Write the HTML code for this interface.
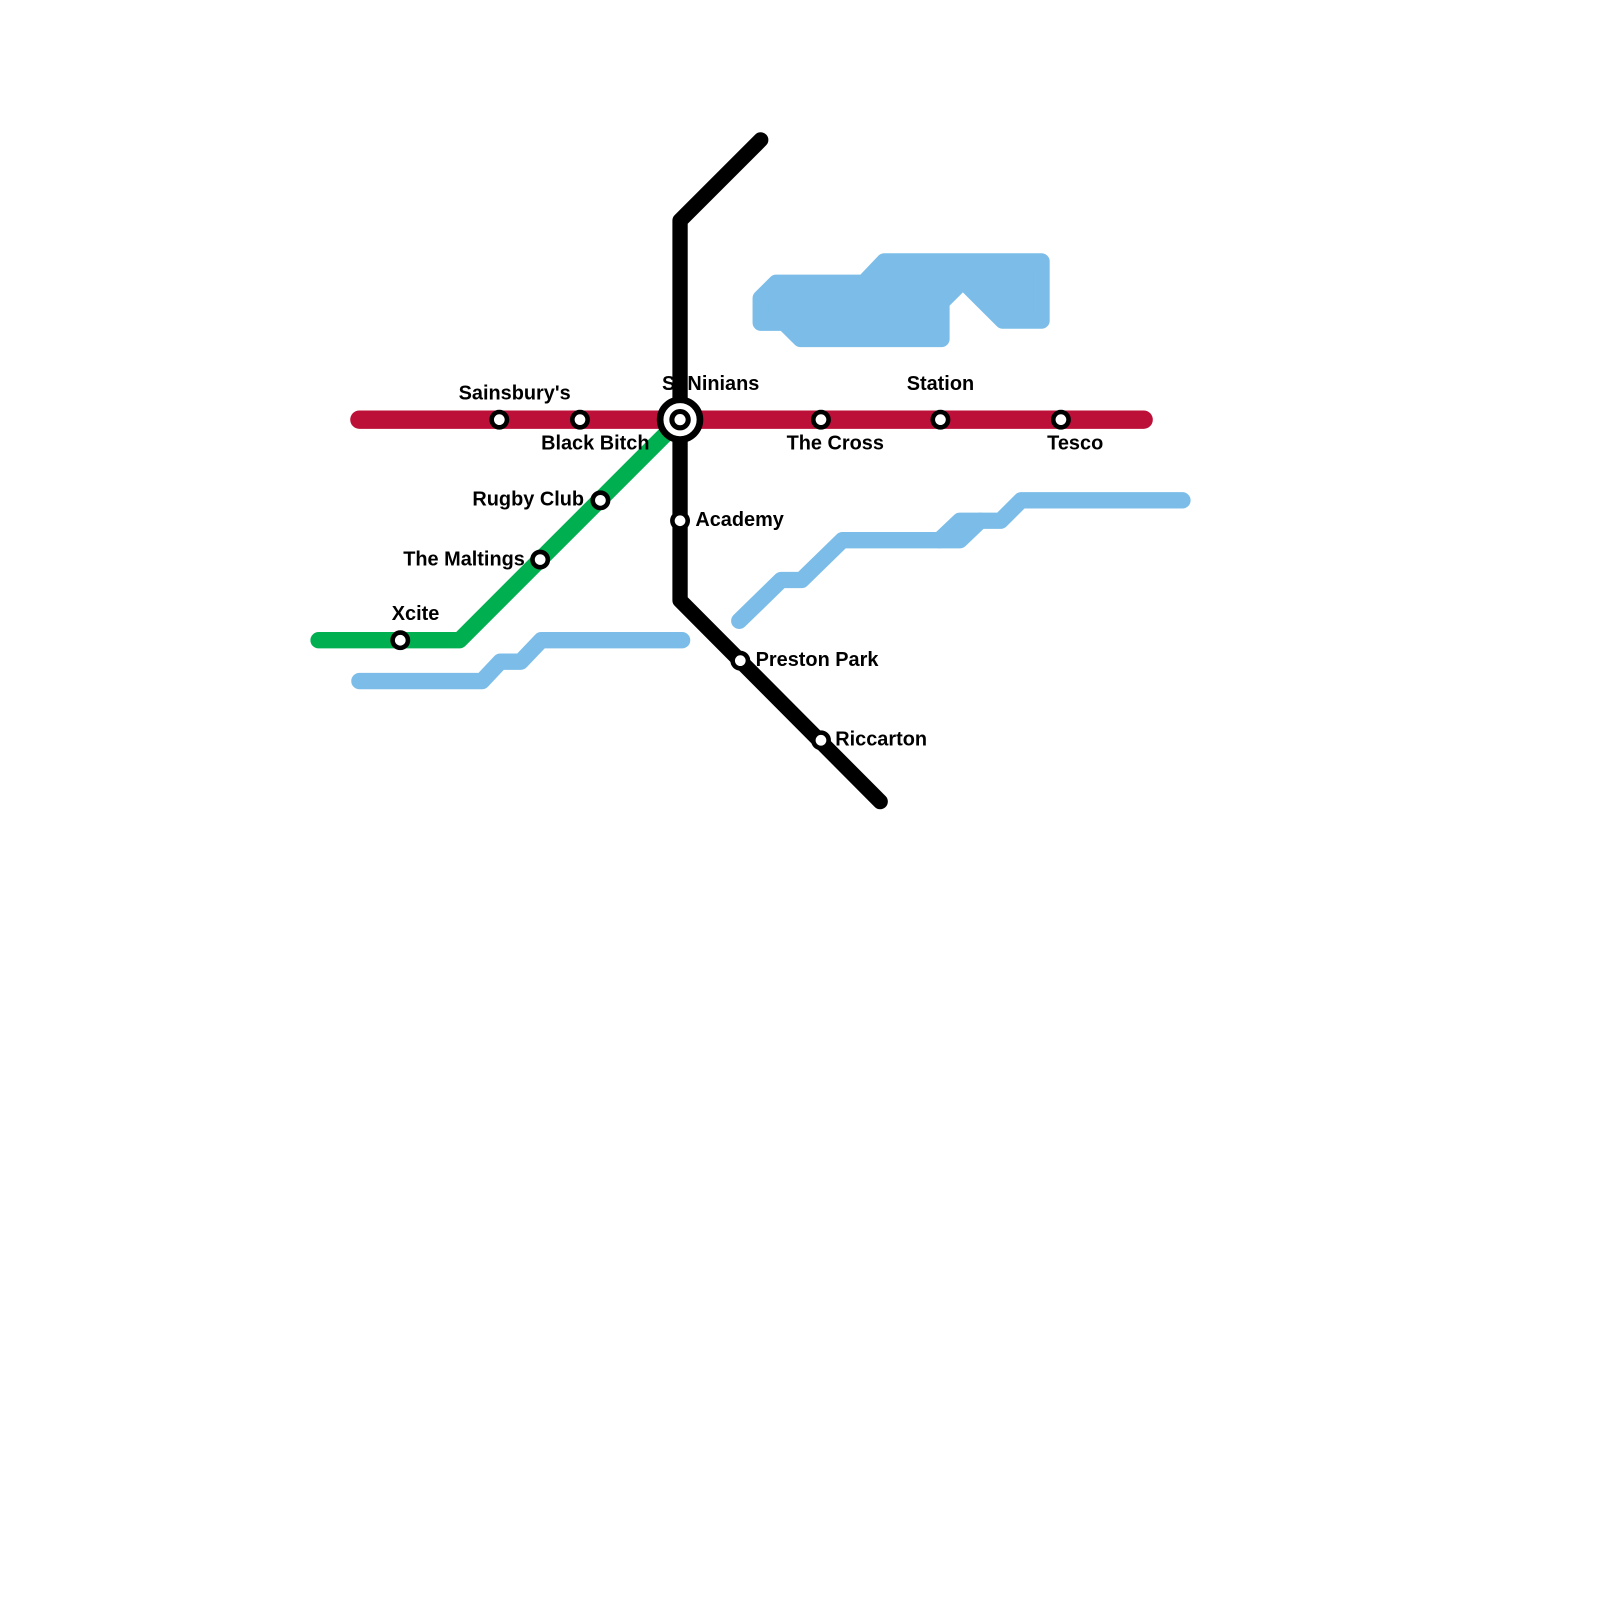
<!DOCTYPE html>
<html><head><style>
body{margin:0;background:#fff}
svg{display:block}
text{font-family:"Liberation Sans",sans-serif;font-weight:bold;font-size:19.5px;fill:#000}
</style></head><body>
<svg width="1600" height="1600" viewBox="0 0 1600 1600">
<g transform="scale(1.0211)">
<g fill="none" stroke-linecap="round" stroke-linejoin="round">
<polygon points="745,292 760,277 846,277 866,256 1020,256 1020,314 982,314 943,275 922,296 922,332 784,332 768,316 745,316" fill="#7bbde8" stroke="#7bbde8" stroke-width="16"/>
<polyline points="352,667 472,667 490,648 510,648 530,627 668,627" stroke="#7bbde8" stroke-width="16"/>
<polyline points="724,608 765,568 785,568 825,529 940,529 960,510 980,510 1000,490 1158,490" stroke="#7bbde8" stroke-width="16"/>
<polyline points="920,529 940,510 960,510" stroke="#7bbde8" stroke-width="16"/>
<line x1="352" y1="411" x2="1120" y2="411" stroke="#bc1039" stroke-width="18"/>
<polyline points="312,627 450,627 652,425" stroke="#00b050" stroke-width="16"/>
<polyline points="745,137 666,216 666,588 862,785" stroke="#000" stroke-width="15"/>
</g>
<g fill="#fff" stroke="#000" stroke-width="4.5">
<circle cx="489" cy="411" r="7.5"/>
<circle cx="568" cy="411" r="7.5"/>
<circle cx="804" cy="411" r="7.5"/>
<circle cx="921" cy="411" r="7.5"/>
<circle cx="1039" cy="411" r="7.5"/>
<circle cx="588" cy="490" r="7.5"/>
<circle cx="529" cy="548" r="7.5"/>
<circle cx="392" cy="627" r="7.5"/>
<circle cx="666" cy="510" r="7.5"/>
<circle cx="725" cy="647" r="7.5"/>
<circle cx="804" cy="725" r="7.5"/>
<circle cx="666" cy="411" r="19.5" stroke-width="6.5"/>
<circle cx="666" cy="411" r="8" stroke-width="5"/>
</g>
<text x="504" y="391" text-anchor="middle">Sainsbury's</text>
<text x="583" y="440" text-anchor="middle">Black Bitch</text>
<text x="696" y="382" text-anchor="middle">St Ninians</text>
<text x="818" y="440" text-anchor="middle">The Cross</text>
<text x="921" y="382" text-anchor="middle">Station</text>
<text x="1053" y="440" text-anchor="middle">Tesco</text>
<text x="572" y="495" text-anchor="end">Rugby Club</text>
<text x="514" y="554" text-anchor="end">The Maltings</text>
<text x="407" y="607" text-anchor="middle">Xcite</text>
<text x="681" y="515">Academy</text>
<text x="740" y="652">Preston Park</text>
<text x="818" y="730">Riccarton</text>
</g>
</svg>
</body></html>
